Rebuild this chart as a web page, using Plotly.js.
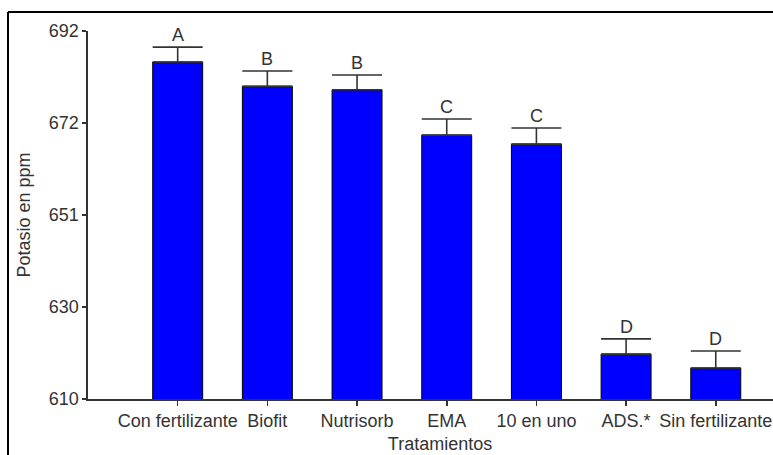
<!DOCTYPE html>
<html>
<head>
<meta charset="utf-8">
<script src="https://cdn.plot.ly/plotly-3.0.1.min.js"></script>
<style>
html, body { margin: 0; padding: 0; overflow: hidden; background: #fff; }
#chart { width: 810px; height: 470px; }
</style>
</head>
<body>
<div id="chart"></div>
<script>
// Data
const categories = ['Con fertilizante', 'Biofit', 'Nutrisorb', 'EMA', '10 en uno', 'ADS.*', 'Sin fertilizante'];
const potassium = [685.1, 679.7, 678.9, 668.8, 666.8, 620.0, 616.9];
const errorPlus = [3.3, 3.4, 3.3, 3.6, 3.6, 3.4, 3.8];
const groupLetters = ['A', 'B', 'B', 'C', 'C', 'D', 'D'];
const yTickValues = [610, 630.5, 651, 671.5, 692];
const yTickLabels = ['610', '630', '651', '672', '692'];

const textColor = '#333333';
const fontFamily = '"Liberation Sans", Arial, sans-serif';

const trace = {
  type: 'bar',
  x: categories.map((c, i) => i),
  y: potassium,
  marker: { color: '#0000FF', line: { color: '#000000', width: 1 } },
  error_y: {
    type: 'data',
    symmetric: false,
    array: errorPlus,
    arrayminus: errorPlus.map(() => 0),
    color: '#333333',
    thickness: 1.6,
    width: 25
  },
  hoverinfo: 'skip'
};

const annotations = groupLetters.map((L, i) => ({
  x: i,
  y: potassium[i] + errorPlus[i],
  xref: 'x', yref: 'y',
  text: L,
  showarrow: false,
  yanchor: 'bottom',
  yshift: 0,
  font: { family: fontFamily, size: 18, color: textColor }
}));

const W = 810, H = 470;
const ml = 88, mt = 31, mb = 71, mr = 18;
const pw = W - ml - mr, ph = H - mt - mb;
const px2x = p => (p - ml) / pw;
const py2y = p => (H - mb - p) / ph;

const frameLine = { color: '#000000', width: 2 };

const layout = {
  width: W, height: H,
  margin: { l: ml, r: mr, t: mt, b: mb, pad: 0 },
  paper_bgcolor: '#ffffff',
  plot_bgcolor: '#ffffff',
  showlegend: false,
  bargap: 0.443,
  font: { family: fontFamily, size: 18, color: textColor },
  xaxis: {
    range: [-1, 6.85],
    tickvals: categories.map((c, i) => i),
    ticktext: categories,
    showgrid: false,
    zeroline: false,
    showline: true,
    linecolor: '#333333',
    linewidth: 1.6,
    ticks: 'outside',
    ticklen: 5,
    tickwidth: 1.6,
    tickcolor: '#333333',
    tickangle: 0,
    tickfont: { family: fontFamily, size: 18, color: textColor },
    automargin: false,
    title: { text: 'Tratamientos', font: { family: fontFamily, size: 18, color: textColor }, standoff: 7 }
  },
  yaxis: {
    range: [610, 692],
    tickvals: yTickValues,
    ticktext: yTickLabels,
    showgrid: false,
    zeroline: false,
    showline: true,
    linecolor: '#333333',
    linewidth: 1.6,
    ticks: 'outside',
    ticklen: 4,
    tickwidth: 1.6,
    tickcolor: '#333333',
    tickfont: { family: fontFamily, size: 18, color: textColor },
    automargin: false,
    title: { text: 'Potasio en ppm', font: { family: fontFamily, size: 18, color: textColor }, standoff: 13 }
  },
  annotations: annotations,
  shapes: [
    { type: 'line', xref: 'paper', yref: 'paper',
      x0: px2x(8), x1: px2x(8), y0: py2y(470), y1: py2y(12),
      line: frameLine, layer: 'above' },
    { type: 'line', xref: 'paper', yref: 'paper',
      x0: px2x(8), x1: px2x(810), y0: py2y(12), y1: py2y(12),
      line: frameLine, layer: 'above' }
  ]
};

Plotly.newPlot('chart', [trace], layout, { staticPlot: true, displayModeBar: false });
</script>
</body>
</html>
